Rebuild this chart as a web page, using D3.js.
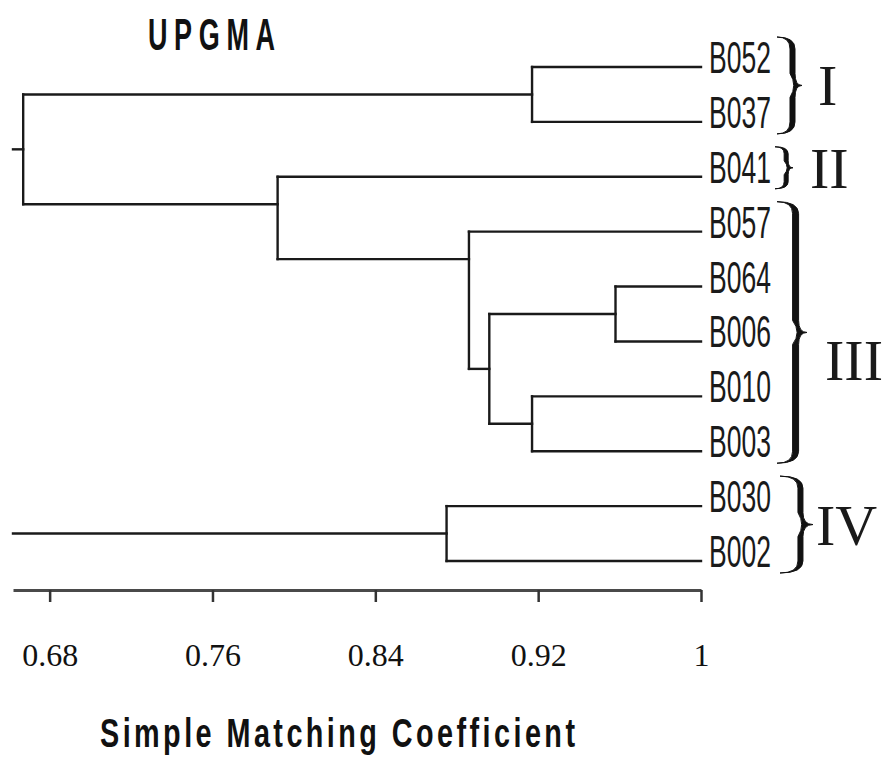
<!DOCTYPE html>
<html>
<head>
<meta charset="utf-8">
<script src="https://cdn.jsdelivr.net/npm/d3@7"></script>
<style>
  body { margin: 0; background: #fff; }
  svg { display: block; }
</style>
</head>
<body>
<div class="tree"></div>
<script>
// UPGMA dendrogram, simple matching coefficient

// leaves, top to bottom
const leaves = ["B052", "B037", "B041", "B057", "B064", "B006", "B010", "B003", "B030", "B002"];

// merges: node id, first child, second child, similarity where they join
const nodeIds = ["n1", "n2", "n3", "n4", "n5", "n6", "n7", "n8"];
const childA = ["B052", "B064", "B010", "n2", "B057", "B041", "n1", "B030"];
const childB = ["B037", "B006", "B003", "n3", "n4", "n5", "n6", "B002"];
const joinSim = [0.917, 0.958, 0.917, 0.896, 0.886, 0.792, 0.667, 0.875];
// leaf row where a node's link meets its parent (as drawn in the original), otherwise midpoint
const linkRow = { n5: 3.5, n6: 2.5 };

// axis ticks
const tickValues = [0.68, 0.76, 0.84, 0.92, 1];
const tickLabels = ["0.68", "0.76", "0.84", "0.92", "1"];

// clusters marked with braces
const groups = ["I", "II", "III", "IV"];
const groupFirst = ["B052", "B041", "B057", "B030"];
const groupLast = ["B037", "B041", "B003", "B002"];

const W = 883, H = 759;
const braceLeft = [777, 775, 777, 780];
const braceWidth = [25, 18, 30, 33];
const braceThick = [5, 4, 6, 5];
const numeralX = [818, 810, 825, 816];
const numeralDy = [0, 0, 28, 0];

const svg = d3.select(".tree").append("svg")
    .attr("width", W)
    .attr("height", H);

const x = d3.scaleLinear().domain([0.662, 1]).range([13, 701]);
const yRow = d3.scaleLinear().domain([0, leaves.length - 1]).range([67, 561]);

// positions of every leaf / node
const pos = {};
leaves.forEach(function(d, i) { pos[d] = { x: x(1), y: yRow(i) }; });

const links = [];
nodeIds.forEach(function(id, i) {
  const a = pos[childA[i]], b = pos[childB[i]];
  const nx = x(joinSim[i]);
  const ny = linkRow[id] !== undefined ? yRow(linkRow[id]) : (a.y + b.y) / 2;
  pos[id] = { x: nx, y: ny, root: true };
  [childA[i], childB[i]].forEach(function(c) {
    links.push({ x1: pos[c].x, y1: pos[c].y, x2: nx, y2: pos[c].y });
    pos[c].root = false;
  });
  links.push({ x1: nx, y1: a.y, x2: nx, y2: b.y });
});
// stems of the top-level clusters run to the left edge
nodeIds.forEach(function(id) {
  if (pos[id].root) links.push({ x1: x(x.domain()[0]), y1: pos[id].y, x2: pos[id].x, y2: pos[id].y });
});

svg.append("g").selectAll("line")
    .data(links)
  .enter().append("line")
    .attr("x1", function(d) { return d.x1; })
    .attr("y1", function(d) { return d.y1; })
    .attr("x2", function(d) { return d.x2; })
    .attr("y2", function(d) { return d.y2; })
    .attr("stroke", "#1a1a1a")
    .attr("stroke-width", 2.4)
    .attr("stroke-linecap", "square");

// leaf labels
svg.append("g").selectAll("text")
    .data(leaves)
  .enter().append("text")
    .attr("x", 709)
    .attr("y", function(d, i) { return yRow(i) + 6; })
    .attr("font-family", "Liberation Sans, Arial, sans-serif")
    .attr("font-size", 45)
    .attr("textLength", 62)
    .attr("lengthAdjust", "spacingAndGlyphs")
    .attr("fill", "#1a1a1a")
    .text(function(d) { return d; });

// braces
function bracePath(xl, y0, y1, w, t) {
  const ym = (y0 + y1) / 2, xa = xl + w * 0.62, xt = xl + w;
  const r = Math.min(12, (y1 - y0) / 6);
  const o = xa + t / 2, n = xa - t / 2;
  return "M" + xl + "," + y0 +
    "Q" + o + "," + y0 + " " + o + "," + (y0 + r) +
    "L" + o + "," + (ym - r) +
    "Q" + o + "," + ym + " " + xt + "," + ym +
    "Q" + o + "," + ym + " " + o + "," + (ym + r) +
    "L" + o + "," + (y1 - r) +
    "Q" + o + "," + y1 + " " + xl + "," + y1 +
    "Q" + n + "," + y1 + " " + n + "," + (y1 - r) +
    "L" + n + "," + (ym + r) +
    "Q" + (xa + t) + "," + ym + " " + n + "," + (ym - r) +
    "L" + n + "," + (y0 + r) +
    "Q" + n + "," + y0 + " " + xl + "," + y0 + "Z";
}

const braceG = svg.append("g").selectAll("g")
    .data(groups)
  .enter().append("g");

braceG.append("path")
    .attr("d", function(d, i) {
      const y0 = yRow(leaves.indexOf(groupFirst[i])) - 30;
      const y1 = yRow(leaves.indexOf(groupLast[i])) + 12;
      return bracePath(braceLeft[i], y0, y1, braceWidth[i], braceThick[i]);
    })
    .attr("fill", "#111")
    .attr("stroke", "#111")
    .attr("stroke-width", 1);

braceG.append("text")
    .attr("x", function(d, i) { return numeralX[i]; })
    .attr("y", function(d, i) {
      const y0 = yRow(leaves.indexOf(groupFirst[i])) - 30;
      const y1 = yRow(leaves.indexOf(groupLast[i])) + 12;
      return (y0 + y1) / 2 + 20 + numeralDy[i];
    })
    .attr("font-family", "Liberation Serif, Times New Roman, serif")
    .attr("font-size", 58)
    .attr("fill", "#1a1a1a")
    .text(function(d) { return d; });

// x axis
const xAxis = d3.axisBottom(x)
    .tickValues(tickValues)
    .tickFormat(function(d, i) { return tickLabels[i]; })
    .tickSize(12)
    .tickSizeOuter(0)
    .tickPadding(41);

const axisG = svg.append("g")
    .attr("transform", "translate(0,590)")
    .call(xAxis);

axisG.select(".domain").attr("stroke", "#4a4a4a").attr("stroke-width", 3);
axisG.selectAll(".tick line").attr("stroke", "#333").attr("stroke-width", 2.5);
axisG.selectAll(".tick text")
    .attr("font-family", "Liberation Serif, Times New Roman, serif")
    .attr("font-size", 32)
    .attr("fill", "#111");

// titles: narrow glyphs with wide letter gaps, as in the original
function squeezedTitle(txt, x0, y0, size, sx, len) {
  svg.append("text")
      .attr("transform", "scale(" + sx + ",1)")
      .attr("x", x0 / sx)
      .attr("y", y0)
      .attr("font-family", "Liberation Sans, Arial, sans-serif")
      .attr("font-weight", "bold")
      .attr("font-size", size)
      .attr("textLength", len / sx)
      .attr("lengthAdjust", "spacing")
      .attr("fill", "#111")
      .text(txt);
}
squeezedTitle("UPGMA", 148, 50, 45, 0.6, 127);
squeezedTitle("Simple Matching Coefficient", 100, 747, 40, 0.72, 475);
</script>
</body>
</html>
